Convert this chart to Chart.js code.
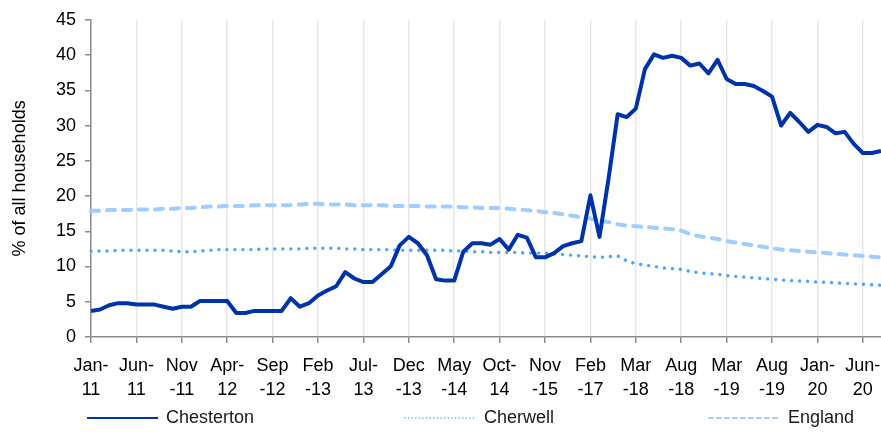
<!DOCTYPE html>
<html>
<head>
<meta charset="utf-8">
<script src="https://cdn.jsdelivr.net/npm/chart.js@4"></script>
<style>
  html, body { margin: 0; padding: 0; background: #fff; }
</style>
</head>
<body>
<canvas id="chart" width="881" height="432"></canvas>
<script>
// tick labels, one every 5 data points (two lines each, as wrapped in the original)
const tickLabels = [
  ["Jan-", "11"], ["Jun-", "11"], ["Nov", "-11"], ["Apr-", "12"], ["Sep", "-12"],
  ["Feb", "-13"], ["Jul-", "13"], ["Dec", "-13"], ["May", "-14"], ["Oct-", "14"],
  ["Nov", "-15"], ["Feb", "-17"], ["Mar", "-18"], ["Aug", "-18"], ["Mar", "-19"],
  ["Aug", "-19"], ["Jan-", "20"], ["Jun-", "20"]
];

const chesterton = [
  3.7, 3.9, 4.5, 4.8, 4.8, 4.6, 4.6, 4.6, 4.3, 4.0,
  4.3, 4.3, 5.1, 5.1, 5.1, 5.1, 3.4, 3.4, 3.7, 3.7,
  3.7, 3.7, 5.5, 4.3, 4.8, 5.9, 6.6, 7.2, 9.2, 8.3,
  7.8, 7.8, 8.9, 10.0, 13.0, 14.2, 13.3, 11.6, 8.2, 8.0,
  8.0, 12.1, 13.3, 13.3, 13.1, 13.9, 12.4, 14.5, 14.1, 11.3,
  11.3, 11.9, 12.9, 13.3, 13.6, 20.1, 14.2, 22.5, 31.6, 31.2,
  32.4, 38.0, 40.1, 39.6, 39.9, 39.6, 38.5, 38.8, 37.4, 39.3,
  36.6, 35.9, 35.9, 35.6, 34.9, 34.1, 30.0, 31.8, 30.5, 29.1,
  30.1, 29.8, 28.9, 29.1, 27.4, 26.1, 26.1, 26.4
];

const cherwell = [
  12.2, 12.2, 12.2, 12.3, 12.3, 12.3, 12.3, 12.3, 12.3, 12.2,
  12.1, 12.1, 12.2, 12.3, 12.4, 12.4, 12.4, 12.4, 12.4, 12.5,
  12.5, 12.5, 12.5, 12.5, 12.6, 12.6, 12.6, 12.6, 12.5, 12.5,
  12.4, 12.4, 12.4, 12.4, 12.3, 12.3, 12.3, 12.3, 12.3, 12.3,
  12.2, 12.2, 12.1, 12.1, 12.0, 12.0, 12.0, 12.0, 11.9, 11.9,
  11.9, 11.8, 11.7, 11.6, 11.5, 11.4, 11.3, 11.4, 11.5, 10.8,
  10.4, 10.2, 10.0, 9.8, 9.7, 9.6, 9.3, 9.1, 9.0, 8.9,
  8.7, 8.6, 8.5, 8.4, 8.3, 8.2, 8.1, 8.0, 7.95, 7.9,
  7.8, 7.75, 7.7, 7.6, 7.55, 7.5, 7.4, 7.35
];

const england = [
  17.9, 17.9, 18.0, 18.0, 18.0, 18.1, 18.1, 18.1, 18.2, 18.2,
  18.3, 18.3, 18.4, 18.5, 18.5, 18.6, 18.6, 18.6, 18.7, 18.7,
  18.7, 18.7, 18.7, 18.8, 18.9, 18.9, 18.8, 18.8, 18.8, 18.7,
  18.7, 18.7, 18.7, 18.6, 18.6, 18.6, 18.6, 18.5, 18.5, 18.5,
  18.5, 18.4, 18.4, 18.3, 18.3, 18.3, 18.2, 18.1, 18.0, 17.9,
  17.7, 17.6, 17.4, 17.2, 17.0, 16.8, 16.5, 16.3, 16.0, 15.8,
  15.7, 15.6, 15.5, 15.4, 15.3, 15.1, 14.6, 14.3, 14.1, 13.9,
  13.6, 13.4, 13.2, 13.0, 12.8, 12.6, 12.4, 12.3, 12.2, 12.1,
  12.0, 11.9, 11.8, 11.7, 11.6, 11.5, 11.4, 11.3
];

const STEP = 5;
const categories = chesterton.map((v, i) => i % STEP === 0 ? tickLabels[i / STEP].join("") : "");

const FONT = "'Liberation Sans', Arial, sans-serif";
const AXIS = "#8c8c8c";
const GRID = "#e8e8e8";

// legend drawn under the plot, items spread like the original
const legendX = [87, 405, 709];
const bottomLegend = {
  id: "bottomLegend",
  afterDraw(chart) {
    const ctx = chart.ctx;
    const y = 418;
    ctx.save();
    ctx.font = "18px " + FONT;
    ctx.textBaseline = "middle";
    ctx.fillStyle = "#1a1a1a";
    chart.data.datasets.forEach((ds, i) => {
      const x = legendX[i];
      ctx.beginPath();
      ctx.strokeStyle = ds.borderColor;
      ctx.lineWidth = ds.legendWidth;
      ctx.lineCap = ds.borderCapStyle || "butt";
      ctx.setLineDash(ds.legendDash);
      ctx.moveTo(x, y);
      ctx.lineTo(x + 71, y);
      ctx.stroke();
      ctx.setLineDash([]);
      ctx.fillText(ds.label, x + 79, y);
    });
    ctx.restore();
  }
};

new Chart(document.getElementById("chart"), {
  type: "line",
  data: {
    labels: categories,
    datasets: [
      {
        label: "Chesterton",
        data: chesterton,
        borderColor: "#0033a8",
        borderWidth: 4,
        borderJoinStyle: "round",
        legendWidth: 2,
        legendDash: []
      },
      {
        label: "Cherwell",
        data: cherwell,
        borderColor: "#4da6ff",
        borderWidth: 3.4,
        borderCapStyle: "round",
        borderDash: [0.1, 7.9],
        legendWidth: 1.5,
        legendDash: [0.1, 3.5]
      },
      {
        label: "England",
        data: england,
        borderColor: "#9fcdff",
        borderWidth: 4,
        borderCapStyle: "round",
        borderDash: [8, 8],
        legendWidth: 2,
        legendDash: [4, 4]
      }
    ]
  },
  options: {
    responsive: false,
    animation: false,
    devicePixelRatio: 1,
    layout: { padding: { top: 13, right: 0, bottom: 0, left: 0 } },
    elements: { point: { radius: 0 }, line: { tension: 0 } },
    plugins: { legend: { display: false }, tooltip: { enabled: false } },
    scales: {
      x: {
        type: "category",
        offset: false,
        afterFit: s => { s.height = 95; s.paddingRight = 0; },
        border: { color: AXIS, width: 1.5 },
        grid: {
          drawOnChartArea: true,
          lineWidth: 1.5,
          tickLength: 6,
          color: c => c.index % STEP === 0 ? GRID : "rgba(0,0,0,0)",
          tickColor: c => c.index % STEP === 0 ? AXIS : "rgba(0,0,0,0)"
        },
        ticks: {
          autoSkip: false,
          maxRotation: 0,
          minRotation: 0,
          padding: 11,
          color: "#000",
          font: { family: FONT, size: 18, lineHeight: 1.35 },
          callback: (v, i) => i % STEP === 0 ? tickLabels[i / STEP] : ""
        }
      },
      y: {
        min: 0,
        max: 45,
        afterFit: s => { s.width = 91; },
        border: { color: AXIS, width: 1.5 },
        grid: { drawOnChartArea: false, tickLength: 6, tickColor: AXIS, lineWidth: 1.5 },
        ticks: {
          stepSize: 5,
          padding: 9,
          color: "#000",
          font: { family: FONT, size: 18 }
        },
        title: {
          display: true,
          text: "% of all households",
          color: "#000",
          font: { family: FONT, size: 18 },
          padding: { top: 9, bottom: 4 }
        }
      }
    }
  },
  plugins: [bottomLegend]
});
</script>
</body>
</html>
